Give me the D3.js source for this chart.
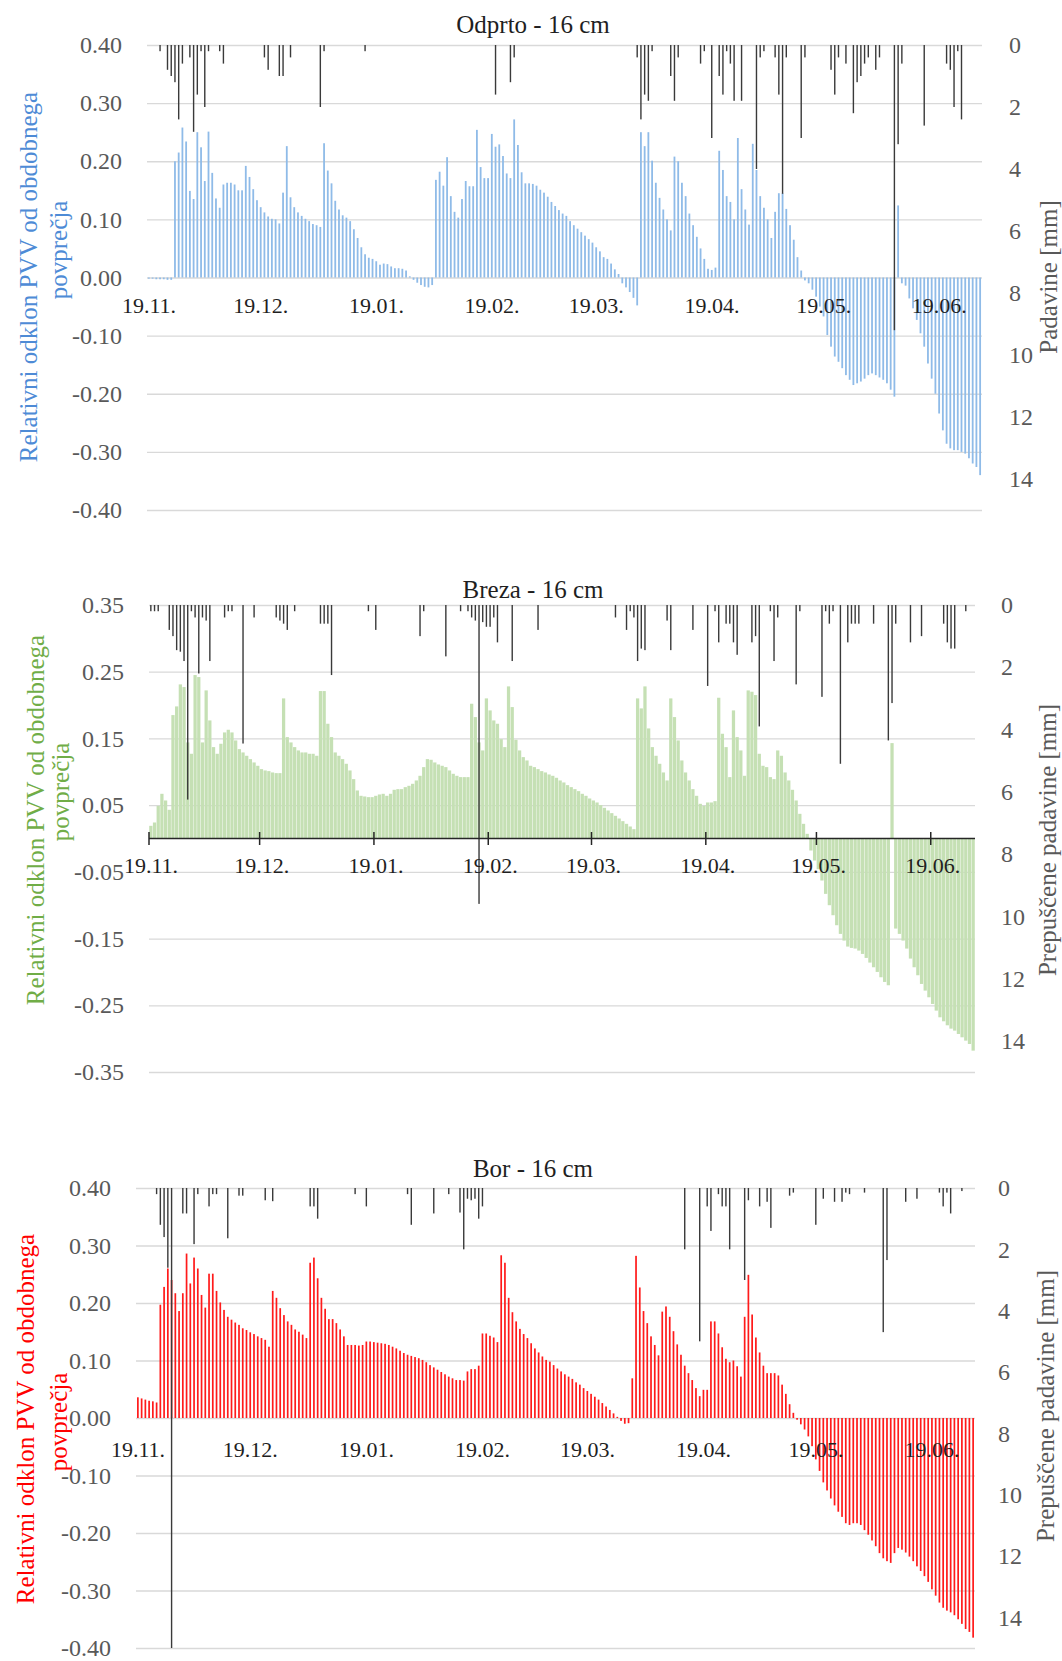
<!DOCTYPE html>
<html>
<head>
<meta charset="utf-8">
<script src="https://d3js.org/d3.v7.min.js"></script>
<style>
  body { margin: 0; background: #fff; }
  svg text { font-family: "Liberation Serif", "Times New Roman", serif; }
</style>
</head>
<body>
<svg id="chart" width="1062" height="1661"></svg>
<script>
// ---- data ----
const startDay = "2018-11-19";
const dayCount = 224;
const monthLabels = ["19.11.", "19.12.", "19.01.", "19.02.", "19.03.", "19.04.", "19.05.", "19.06."];
const monthDates = ["2018-11-19", "2018-12-19", "2019-01-19", "2019-02-19", "2019-03-19", "2019-04-19", "2019-05-19", "2019-06-19"];

const ticks40 = [-0.4, -0.3, -0.2, -0.1, 0, 0.1, 0.2, 0.3, 0.4];
const ticks35 = [-0.35, -0.25, -0.15, -0.05, 0.05, 0.15, 0.25, 0.35];
const rainTicks = [0, 2, 4, 6, 8, 10, 12, 14];

// relative deviation of soil water content, one value per day
const odprto = [
  -0.002,-0.002,-0.003,-0.003,-0.003,-0.004,-0.004,
  0.200,0.215,0.258,0.234,0.149,0.135,0.250,0.224,0.166,0.251,
  0.180,0.136,0.120,0.160,0.163,0.163,0.160,0.150,0.150,0.192,
  0.173,0.152,0.133,0.121,0.112,0.105,0.101,0.100,0.093,0.146,
  0.226,0.138,0.121,0.112,0.106,0.101,0.097,0.092,0.090,0.087,
  0.231,0.184,0.162,0.132,0.117,0.107,0.103,0.097,0.083,0.068,
  0.052,0.040,0.034,0.032,0.028,0.022,0.024,0.023,0.019,0.016,
  0.016,0.015,0.012,0.002,-0.004,-0.009,-0.013,-0.016,-0.017,-0.013,
  0.168,0.182,0.158,0.207,0.140,0.113,0.103,0.135,0.166,0.157,
  0.157,0.254,0.190,0.171,0.171,0.247,0.225,0.229,0.209,0.179,
  0.171,0.272,0.228,0.181,0.162,0.162,0.161,0.158,0.151,0.146,
  0.139,0.130,0.123,0.116,0.110,0.106,0.097,0.090,0.084,0.078,
  0.072,0.066,0.060,0.052,0.045,0.035,0.032,0.024,0.014,0.006,
  -0.010,-0.017,-0.025,-0.035,-0.048,0.250,0.226,0.250,0.201,0.163,
  0.137,0.117,0.100,0.081,0.208,0.200,0.163,0.140,0.110,0.090,
  0.070,0.050,0.032,0.015,0.013,0.017,0.218,0.185,0.140,0.130,
  0.100,0.240,0.152,0.117,0.091,0.230,0.185,0.140,0.120,0.100,
  0.068,0.113,0.145,0.145,0.118,0.090,0.065,0.035,0.012,-0.005,
  -0.010,-0.021,-0.033,-0.050,-0.067,-0.099,-0.119,-0.136,-0.145,-0.156,
  -0.168,-0.176,-0.185,-0.182,-0.179,-0.174,-0.168,-0.165,-0.168,-0.172,
  -0.176,-0.182,-0.193,-0.205,0.124,-0.010,-0.014,-0.036,-0.053,-0.073,
  -0.096,-0.119,-0.148,-0.174,-0.200,-0.234,-0.263,-0.286,-0.294,-0.297,
  -0.297,-0.300,-0.303,-0.311,-0.320,-0.326,-0.340
];

const breza = [
  0.019,0.024,0.049,0.067,0.057,0.043,0.185,0.198,0.231,0.227,
  0.144,0.127,0.245,0.242,0.144,0.222,0.177,0.137,0.127,0.142,
  0.159,0.163,0.159,0.147,0.134,0.129,0.124,0.119,0.114,0.109,
  0.104,0.102,0.101,0.099,0.098,0.098,0.210,0.152,0.144,0.137,
  0.132,0.129,0.129,0.127,0.127,0.124,0.221,0.221,0.172,0.152,
  0.129,0.124,0.119,0.112,0.102,0.089,0.072,0.064,0.063,0.062,
  0.062,0.064,0.066,0.067,0.064,0.067,0.073,0.074,0.074,0.077,
  0.079,0.082,0.087,0.094,0.107,0.119,0.118,0.114,0.111,0.109,
  0.107,0.102,0.097,0.094,0.092,0.092,0.092,0.202,0.182,0.144,
  0.132,0.210,0.192,0.177,0.172,0.149,0.137,0.228,0.197,0.148,
  0.132,0.122,0.117,0.109,0.107,0.104,0.101,0.099,0.096,0.094,
  0.091,0.087,0.084,0.080,0.077,0.074,0.071,0.067,0.064,0.060,
  0.057,0.054,0.050,0.046,0.042,0.038,0.034,0.030,0.026,0.022,
  0.018,0.014,0.210,0.195,0.228,0.165,0.137,0.124,0.112,0.099,
  0.087,0.210,0.182,0.147,0.117,0.099,0.087,0.074,0.064,0.052,
  0.049,0.054,0.054,0.056,0.211,0.157,0.137,0.092,0.192,0.152,
  0.132,0.094,0.222,0.220,0.215,0.127,0.109,0.107,0.092,0.089,
  0.132,0.124,0.099,0.087,0.073,0.057,0.037,0.022,0.007,-0.018,
  -0.033,-0.046,-0.063,-0.083,-0.100,-0.115,-0.130,-0.143,-0.153,-0.162,
  -0.164,-0.165,-0.168,-0.173,-0.179,-0.186,-0.193,-0.200,-0.208,-0.215,
  -0.220,0.143,-0.135,-0.143,-0.153,-0.165,-0.180,-0.193,-0.205,-0.218,
  -0.228,-0.238,-0.248,-0.258,-0.268,-0.274,-0.280,-0.285,-0.288,-0.293,
  -0.298,-0.303,-0.308,-0.318
];

const bor = [
  0.036,0.034,0.032,0.030,0.029,0.027,0.197,0.228,0.260,0.240,
  0.217,0.186,0.217,0.286,0.234,0.279,0.260,0.214,0.192,0.251,
  0.251,0.221,0.201,0.188,0.176,0.171,0.166,0.162,0.156,0.153,
  0.149,0.146,0.142,0.139,0.136,0.124,0.221,0.209,0.191,0.179,
  0.168,0.162,0.154,0.150,0.145,0.139,0.270,0.279,0.243,0.209,
  0.190,0.172,0.172,0.165,0.154,0.142,0.127,0.127,0.127,0.126,
  0.127,0.133,0.133,0.132,0.131,0.130,0.129,0.127,0.124,0.121,
  0.117,0.113,0.110,0.108,0.106,0.104,0.101,0.097,0.092,0.088,
  0.084,0.080,0.076,0.072,0.069,0.066,0.066,0.065,0.081,0.085,
  0.085,0.091,0.147,0.147,0.143,0.140,0.132,0.283,0.270,0.209,
  0.184,0.168,0.155,0.146,0.139,0.130,0.121,0.114,0.107,0.101,
  0.098,0.092,0.086,0.081,0.076,0.072,0.068,0.062,0.058,0.052,
  0.047,0.042,0.037,0.032,0.026,0.020,0.014,0.008,0.002,-0.005,
  -0.010,-0.009,0.069,0.282,0.227,0.186,0.165,0.142,0.127,0.109,
  0.185,0.194,0.176,0.151,0.128,0.110,0.091,0.078,0.066,0.052,
  0.038,0.049,0.049,0.168,0.168,0.147,0.123,0.103,0.097,0.100,
  0.090,0.072,0.176,0.249,0.180,0.140,0.114,0.091,0.078,0.078,
  0.078,0.074,0.058,0.042,0.024,0.009,-0.003,-0.011,-0.020,-0.032,
  -0.049,-0.072,-0.092,-0.112,-0.126,-0.140,-0.152,-0.163,-0.172,-0.183,
  -0.186,-0.183,-0.183,-0.186,-0.195,-0.203,-0.213,-0.223,-0.235,-0.244,
  -0.249,-0.252,-0.235,-0.226,-0.229,-0.234,-0.241,-0.249,-0.258,-0.266,
  -0.275,-0.285,-0.298,-0.309,-0.321,-0.330,-0.335,-0.338,-0.343,-0.350,
  -0.358,-0.367,-0.372,-0.382
];

// precipitation [day index, mm]
const rainOdprto = [
  [3,0.2],[5,0.8],[6,1.0],[7,1.2],[8,2.4],[9,0.6],[11,0.4],[12,2.8],[13,1.6],[14,0.2],[15,2.0],[16,0.2],
  [19,0.2],[20,0.6],[31,0.4],[32,0.8],[35,1.0],[36,1.0],[38,0.4],[46,2.0],[47,0.2],[58,0.2],
  [93,1.6],[97,1.2],[98,0.4],[131,0.4],[132,2.4],[133,1.6],[134,1.8],[135,0.2],[140,1.0],[141,1.8],[142,0.4],
  [148,0.6],[149,0.2],[151,3.0],[153,1.0],[154,1.6],[155,0.2],[156,0.6],[157,1.8],[159,1.8],
  [163,4.0],[164,0.4],[165,0.2],[168,0.4],[169,1.6],[170,4.8],[171,0.4],[175,3.0],[176,0.4],
  [183,0.8],[184,1.6],[185,0.4],[187,0.6],[189,2.2],[190,1.2],[191,1.0],[192,0.6],[193,0.4],
  [195,0.8],[196,0.4],[200,9.2],[201,3.2],[202,0.6],[208,2.6],[214,0.6],[215,0.8],[216,2.0],[217,0.2],[218,2.4]
];
const rainBreza = [
  [0,0.2],[1,0.2],[2,0.2],[5,0.8],[6,1.0],[7,1.45],[8,1.5],[9,1.8],[10,6.25],[11,0.2],[12,0.4],[13,2.2],
  [14,0.4],[15,0.5],[16,1.8],[20,0.4],[21,0.2],[22,0.2],[25,4.45],[28,0.4],[34,0.4],[35,0.5],[36,0.6],[37,0.8],
  [39,0.2],[46,0.6],[47,0.6],[48,0.6],[49,2.25],[59,0.2],[61,0.8],[73,1.0],[74,0.2],[80,1.65],[84,0.2],
  [86,0.2],[87,0.4],[88,0.5],[89,9.6],[90,0.55],[91,0.7],[92,0.7],[93,0.4],[94,1.2],[98,1.8],[105,0.8],
  [126,0.4],[129,0.8],[130,0.2],[131,0.4],[132,1.8],[133,1.4],[134,1.45],[140,0.5],[141,1.45],[147,0.8],
  [151,2.6],[153,0.2],[154,1.2],[156,0.6],[157,0.6],[158,1.2],[159,1.6],[163,1.2],[164,1.0],[165,3.9],
  [168,0.2],[169,1.8],[170,0.4],[175,2.55],[176,0.2],[182,2.95],[183,0.2],[184,0.6],[185,0.2],[187,5.1],
  [189,1.2],[190,0.6],[191,0.6],[192,0.6],[196,0.6],[200,4.35],[201,3.15],[202,0.6],[206,1.2],[209,1.0],
  [215,0.6],[216,1.2],[217,1.4],[218,1.4],[221,0.2]
];
const rainBor = [
  [5,0.2],[6,1.2],[7,1.6],[8,2.6],[9,15],[12,0.83],[13,0.83],[15,1.83],[16,0.2],[19,0.6],[20,0.2],[21,0.2],
  [24,1.64],[27,0.25],[28,0.25],[34,0.4],[36,0.43],[46,0.6],[47,0.6],[48,1.0],[58,0.2],[61,0.6],
  [72,0.2],[73,1.2],[79,0.83],[83,0.2],[86,0.8],[87,2.0],[88,0.35],[89,0.4],[90,0.35],[91,1.0],[92,0.6],
  [146,2.0],[150,5.0],[152,0.6],[153,1.4],[155,0.2],[156,0.6],[157,0.6],[158,2.0],[162,3.0],[163,0.4],
  [166,0.6],[168,0.45],[169,1.3],[174,0.25],[175,0.15],[181,1.2],[183,0.35],[186,0.45],[188,0.45],
  [189,0.15],[190,0.2],[194,0.15],[199,4.7],[200,2.35],[205,0.45],[208,0.35],[214,0.15],[215,0.6],
  [216,0.15],[217,0.83],[220,0.1]
];

// ---- layout ----
const panels = [
  { title: "Odprto - 16 cm", values: odprto, rain: rainOdprto, ticks: ticks40, domain: [-0.4, 0.4],
    x0: 147, x1: 982, yTop: 45, yBottom: 510, titleY: 33, xLabelY: 313,
    barColor: "#8fbbe8", barW: 1.8, textColor: "#4e8bd6",
    left1: [28, 277], left2: [58, 250], rightTitle: "Padavine [mm]", rightPos: [1048, 277], rightPad: 27, axisLine: false },
  { title: "Breza - 16 cm", values: breza, rain: rainBreza, ticks: ticks35, domain: [-0.35, 0.35],
    x0: 149, x1: 975, yTop: 605, yBottom: 1072, titleY: 598, xLabelY: 873,
    barColor: "#c5e0b4", barW: 3.25, textColor: "#70ad47",
    left1: [35, 820], left2: [60, 792], rightTitle: "Prepuščene padavine [mm]", rightPos: [1047, 840], rightPad: 26, axisLine: true },
  { title: "Bor - 16 cm", values: bor, rain: rainBor, ticks: ticks40, domain: [-0.4, 0.4],
    x0: 136, x1: 975, yTop: 1188, yBottom: 1648, titleY: 1177, xLabelY: 1457,
    barColor: "#ff1a1a", barW: 1.7, textColor: "#ff0000",
    left1: [25, 1419], left2: [58, 1422], rightTitle: "Prepuščene padavine [mm]", rightPos: [1045, 1406], rightPad: 23, axisLine: false }
];

const svg = d3.select("#chart");
const parse = d3.utcParse("%Y-%m-%d");
const start = parse(startDay);
const ticksAt = monthDates.map(parse);

function drawPanel(p) {
  const g = svg.append("g");
  const x = d3.scaleUtc().domain([start, d3.utcDay.offset(start, dayCount)]).range([p.x0, p.x1]);
  const y = d3.scaleLinear().domain(p.domain).range([p.yBottom, p.yTop]);
  const r = d3.scaleLinear().domain([0, 15]).range([p.yTop, p.yBottom]).clamp(true);
  const xc = i => (x(d3.utcDay.offset(start, i)) + x(d3.utcDay.offset(start, i + 1))) / 2;

  // gridlines
  g.append("g")
    .attr("transform", `translate(${p.x0},0)`)
    .call(d3.axisLeft(y).tickValues(p.ticks).tickSize(-(p.x1 - p.x0)).tickFormat(""))
    .call(a => a.select(".domain").remove())
    .selectAll("line").attr("stroke", "#d9d9d9").attr("stroke-width", 1.3);

  // left labels
  g.append("g")
    .attr("transform", `translate(${p.x0},0)`)
    .call(d3.axisLeft(y).tickValues(p.ticks).tickSize(0).tickPadding(25).tickFormat(d => d.toFixed(2)))
    .call(a => a.select(".domain").remove())
    .selectAll("text").style("font-size", "24px").attr("fill", "#595959");

  // right labels
  g.append("g")
    .attr("transform", `translate(${p.x1},0)`)
    .call(d3.axisRight(r).tickValues(rainTicks).tickSize(0).tickPadding(p.rightPad))
    .call(a => a.select(".domain").remove())
    .selectAll("text").style("font-size", "24px").attr("fill", "#595959");

  // deviation bars
  g.append("g").selectAll("rect").data(p.values).join("rect")
    .attr("x", (d, i) => xc(i) - p.barW / 2)
    .attr("width", p.barW)
    .attr("y", d => y(Math.max(d, 0)))
    .attr("height", d => Math.abs(y(d) - y(0)))
    .attr("fill", p.barColor);

  // precipitation bars hanging from the top
  g.append("g").selectAll("rect").data(p.rain).join("rect")
    .attr("x", d => xc(d[0]) - 0.7)
    .attr("width", 1.4)
    .attr("y", p.yTop)
    .attr("height", d => r(d[1]) - p.yTop)
    .attr("fill", "#3a3a3a");

  // month axis
  if (p.axisLine) {
    g.append("line")
      .attr("x1", p.x0).attr("x2", p.x1).attr("y1", y(0)).attr("y2", y(0))
      .attr("stroke", "#262626").attr("stroke-width", 1.5);
    g.append("g").selectAll("line").data(ticksAt).join("line")
      .attr("x1", d => x(d)).attr("x2", d => x(d))
      .attr("y1", y(0) - 6.5).attr("y2", y(0) + 6.5)
      .attr("stroke", "#262626").attr("stroke-width", 1.5);
  }
  g.append("g")
    .attr("transform", `translate(1.5,${p.xLabelY})`)
    .call(d3.axisBottom(x).tickValues(ticksAt).tickSize(0).tickPadding(0).tickFormat((d, i) => monthLabels[i]))
    .call(a => a.select(".domain").remove())
    .selectAll("text").attr("dy", 0).style("font-size", "22px").attr("fill", "#1f1f1f");

  // titles
  g.append("text")
    .attr("x", 533).attr("y", p.titleY)
    .attr("text-anchor", "middle")
    .style("font-size", "25px").attr("fill", "#1f1f1f")
    .text(p.title);

  const rot = (pos, txt, color) => g.append("text")
    .attr("transform", `translate(${pos[0]},${pos[1]}) rotate(-90)`)
    .attr("text-anchor", "middle").attr("dominant-baseline", "central")
    .style("font-size", "25px").attr("fill", color)
    .text(txt);
  rot(p.left1, "Relativni odklon PVV od obdobnega", p.textColor);
  rot(p.left2, "povprečja", p.textColor);
  rot(p.rightPos, p.rightTitle, "#595959");
}

panels.forEach(drawPanel);
</script>
</body>
</html>
